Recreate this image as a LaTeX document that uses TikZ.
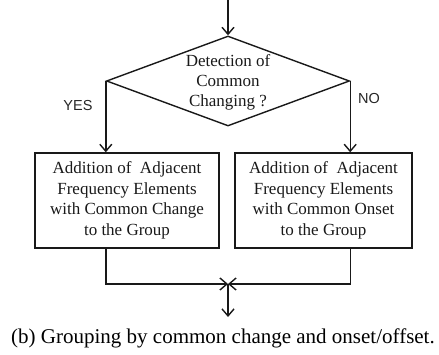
\documentclass[tikz,border=0pt]{standalone}
\usepackage{fontspec}
\setmainfont{Liberation Serif}
\newfontfamily\labelsans{Liberation Sans}
\usetikzlibrary{shapes.geometric,arrows.meta}

\tikzset{
  flow/.style={line width=1.4pt, draw=black!90},
  arr/.style={flow, -{Straight Barb[length=7pt,width=12pt,line width=1.4pt]}},
  procbox/.style={draw=black!90, line width=1.4pt, align=center, inner sep=0pt,
    font=\fontsize{17}{20.6}\selectfont, text=black!90},
  decision/.style={diamond, draw=black!90, line width=1.4pt, inner sep=0pt,
    minimum width=243pt, minimum height=90pt},
  answer/.style={font=\labelsans\fontsize{14.5}{16}\selectfont, text=black!85},
}

\begin{document}
\begin{tikzpicture}[x=1pt,y=-1pt]
  \useasboundingbox (0,0) rectangle (439,355);

  % entry, decision and the two grouping steps
  \coordinate (in) at (228,0);
  \node[decision] (dec) at (228,81) {};
  \node[align=center, font=\fontsize{17}{20}\selectfont, text=black!90] (dectext) at (228,82)
    {Detection of\\Common\\Changing ?};

  \node[procbox, minimum width=184pt, minimum height=95pt] (lbox) at (127,200.5)
    {Addition of\ \ Adjacent\\Frequency Elements\\with Common Change\\to the Group};
  \node[procbox, minimum width=177pt, minimum height=95pt] (rbox) at (323.5,200.5)
    {Addition of\ \ Adjacent\\Frequency Elements\\with Common Onset\\to the Group};

  \node[answer] (yes) at (78,106) {YES};
  \node[answer] (no) at (369,99) {NO};

  \coordinate (merge) at (228,284);
  \coordinate (out) at (228,317);

  % connectors
  \draw[arr] (in) -- (dec.north);
  \draw[arr] (dec.west) -- (dec.west |- lbox.north);
  \draw[arr] (dec.east) -- (dec.east |- rbox.north);
  \draw[arr] (dec.west |- lbox.south) |- (merge);
  \draw[arr] (dec.east |- rbox.south) |- (merge);
  \draw[arr] (merge) -- (out);

  % caption
  \node[font=\fontsize{21}{24}\selectfont] (caption) at (223,338)
    {(b) Grouping by common change and onset/offset.};
\end{tikzpicture}
\end{document}
